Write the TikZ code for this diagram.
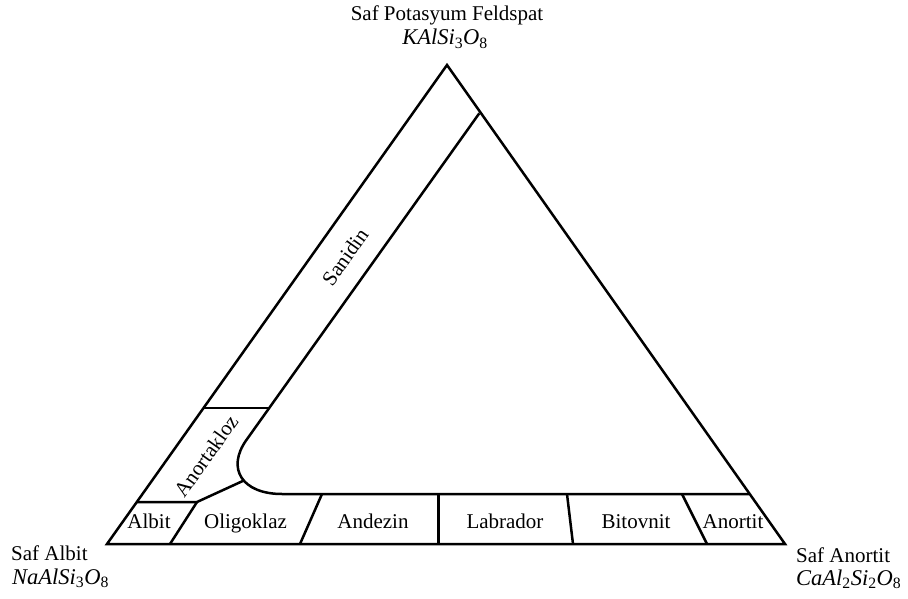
\documentclass[tikz,border=0pt]{standalone}
\usepackage{fontspec}
\setmainfont{Liberation Serif}
\begin{document}
\begin{tikzpicture}[x=1pt,y=-1pt,
  edge/.style={line width=2.5pt,line join=miter,line cap=butt},
  lbl/.style={font=\fontsize{21}{24}\selectfont,inner sep=0pt,anchor=base},
  side/.style={lbl,anchor=base west},
  tilted/.style={font=\fontsize{21}{24}\selectfont,inner sep=0pt,rotate=54.6},
  formula/.style={font=\fontsize{22.5}{26}\selectfont\itshape}]
\useasboundingbox[fill=white] (0,0) rectangle (908,599);

% corners of the ternary diagram
\coordinate (K) at (447,65);
\coordinate (Na) at (107,544);
\coordinate (Ca) at (785,544);

% outer triangle
\draw[edge] (Na) -- (K) -- (Ca) -- cycle;

% inner boundary: sanidine band and plagioclase band
\coordinate (s1) at (479.3,113.3);
\coordinate (s2) at (246.4,440);
\coordinate (s3) at (282,494);
\coordinate (s4) at (749,494);
\draw[edge] (s1) -- (s2) .. controls (226.1,468.5) and (242,494) .. coordinate[pos=0.55] (j) (s3) -- (s4);

% anorthoclase field
\coordinate (a1) at (203.7,408);
\coordinate (a2) at (269.6,408);
\draw[edge] (a1) -- (a2);
\coordinate (b1) at (136.9,502);
\coordinate (b2) at (197,502);
\draw[edge] (b1) -- (b2) -- (j);

% plagioclase dividers
\coordinate (d1) at (170,544);
\draw[edge] (b2) -- (d1);
\coordinate (o1) at (322,494); \coordinate (o2) at (300,544);
\draw[edge] (o1) -- (o2);
\coordinate (n1) at (438.5,494); \coordinate (n2) at (438.5,544);
\draw[edge] (n1) -- (n2);
\coordinate (l1) at (567,494); \coordinate (l2) at (573,544);
\draw[edge] (l1) -- (l2);
\coordinate (t1) at (682,494); \coordinate (t2) at (707,544);
\draw[edge] (t1) -- (t2);

% field names
\node[lbl] (albit) at (149,528.5) {Albit};
\node[lbl] (oligo) at (245.5,528.5) {Oligoklaz};
\node[lbl] (andez) at (373,528.5) {Andezin};
\node[lbl] (labra) at (505,528.5) {Labrador};
\node[lbl] (bitov) at (636,528.5) {Bitovnit};
\node[lbl] (anort) at (733,528.5) {Anortit};
\node[tilted] (sanid) at (345,257) {Sanidin};
\node[tilted] (anortak) at (206,456) {Anortakloz};

% end members
\node[lbl] (kname) at (447,21) {Saf Potasyum Feldspat};
\node[lbl,formula] (kform) at (445,45) {KAlSi\textsubscript{\upshape 3}O\textsubscript{\upshape 8}};
\node[side] (naname) at (11,560) {Saf Albit};
\node[side,formula] (naform) at (12,584) {NaAlSi\textsubscript{\upshape 3}O\textsubscript{\upshape 8}};
\node[side] (caname) at (796,562.5) {Saf Anortit};
\node[side,formula] (caform) at (796,585) {CaAl\textsubscript{\upshape 2}Si\textsubscript{\upshape 2}O\textsubscript{\upshape 8}};
\end{tikzpicture}
\end{document}
